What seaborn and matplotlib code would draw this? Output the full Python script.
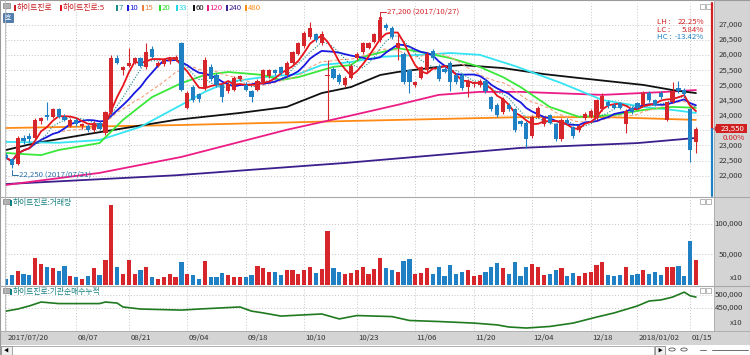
import numpy as np
import pandas as pd
import matplotlib
matplotlib.use("Agg")
import matplotlib.pyplot as plt
import matplotlib.transforms as mtrans
import seaborn as sns
from matplotlib.patches import Rectangle, Polygon
from matplotlib.lines import Line2D

## ---------------- datos ----------------

opens = [22700, 22550, 22400, 23250, 23300, 23250, 23800, 24000, 23950, 24200,
         23950, 23650, 23850, 23650, 23650, 23500, 23750, 23400, 24100, 25900,
         25500, 25650, 25750, 25900, 25600, 26200, 25650, 25700, 25800, 25850,
         26400, 24250, 24950, 24700, 24900, 25600, 25350, 25000, 24800, 24850,
         25200, 25000, 24800, 24850, 25100, 25300, 25500, 25600, 25350, 25750,
         26050, 26300, 26600, 26700, 26400, 25300, 25550, 25350, 25000, 25250,
         25900, 26100, 26250, 26450, 26500, 27000, 26900, 26250, 26050, 25500,
         25000, 25250, 25500, 26150, 25650, 25550, 25750, 25350, 25350, 24950,
         25050, 25000, 25150, 24600, 24350, 24100, 24350, 24200, 23800, 23750,
         23300, 23950, 23700, 24000, 23700, 23200, 23850, 23600, 23500, 23900,
         23950, 23900, 24200, 24450, 24350, 24400, 23700, 24250, 24400, 24350,
         24750, 24500, 24750, 23850, 24450, 24900, 24850, 24200, 23100]
highs = [22750, 22600, 23300, 23350, 23400, 23900, 23950, 24450, 24250, 24250,
         24050, 23900, 23900, 23750, 23700, 23800, 23800, 24150, 26000, 26000,
         25650, 26250, 25950, 25950, 26400, 26300, 25800, 25900, 25950, 26000,
         26450, 24800, 25000, 24750, 25950, 25700, 25400, 25050, 25100, 25300,
         25350, 25100, 24850, 25200, 25550, 25550, 25550, 25650, 25800, 26150,
         26450, 26800, 27100, 26750, 26800, 25850, 25600, 25400, 25300, 25700,
         26100, 26450, 26450, 26750, 27200, 27050, 26950, 26700, 26100, 25550,
         25150, 25650, 26100, 26200, 25700, 25600, 25800, 25400, 25400, 25200,
         25150, 25200, 25200, 24650, 24400, 24600, 24400, 24250, 23850, 23800,
         24000, 24300, 23950, 24050, 23750, 23900, 23900, 23650, 23700, 24100,
         24200, 24550, 24750, 24500, 24400, 24450, 24200, 24300, 24450, 24800,
         24800, 24550, 24800, 24450, 25100, 25150, 24900, 24250, 23600]
lows = [22550, 22250, 22350, 23050, 23100, 23200, 23700, 23850, 23900, 23900,
        23800, 23600, 23650, 23550, 23450, 23450, 23500, 23350, 24050, 25700,
        25350, 25600, 25700, 25600, 25550, 25900, 25600, 25650, 25700, 25800,
        24800, 24200, 24450, 24450, 24850, 25150, 24950, 24450, 24750, 24800,
        25150, 24800, 24450, 24800, 25050, 25250, 25350, 25350, 25300, 25700,
        26000, 26250, 26550, 26450, 26350, 23850, 25200, 25050, 24950, 25200,
        25850, 26050, 26200, 26400, 26450, 26850, 26550, 25850, 25050, 24750,
        24950, 25200, 25450, 25850, 25150, 25400, 24800, 25050, 24850, 24600,
        24950, 24950, 24750, 24150, 23950, 24050, 24150, 23450, 23650, 22900,
        23250, 23900, 23650, 23700, 23150, 23150, 23700, 23250, 23450, 23850,
        23900, 23850, 24150, 24250, 24200, 24200, 23400, 24050, 24200, 24300,
        24450, 24300, 24550, 23800, 24400, 24750, 24650, 22450, 22750]
closes = [22600, 22350, 23250, 23150, 23200, 23850, 23900, 23950, 24200, 23950,
          23850, 23850, 23700, 23700, 23500, 23750, 23550, 24100, 25900, 25750,
          25600, 25750, 25900, 25650, 26100, 25950, 25750, 25850, 25900, 25950,
          24850, 24750, 24500, 24550, 25850, 25200, 25000, 24600, 25050, 25250,
          25300, 24850, 24600, 25150, 25500, 25500, 25400, 25400, 25750, 26100,
          26400, 26750, 26900, 26500, 26700, 25350, 25250, 25100, 25250, 25650,
          26050, 26400, 26400, 26700, 27150, 26900, 26600, 26400, 25100, 25100,
          25100, 25600, 26050, 25900, 25200, 25450, 25100, 25100, 24900, 25150,
          25100, 25150, 24800, 24200, 24000, 24550, 24200, 23500, 23700, 23200,
          23950, 24250, 23900, 23750, 23200, 23850, 23750, 23300, 23650, 24050,
          24150, 24500, 24650, 24300, 24250, 24250, 24150, 24100, 24250, 24750,
          24500, 24350, 24600, 24450, 24800, 24800, 24700, 22850, 23550]
volumes = [9800, 16400, 23000, 18000, 16400, 44000, 34000, 29500, 28000, 23000,
           31000, 14800, 13000, 9800, 14800, 28000, 16400, 41000, 131000, 29500,
           18000, 41000, 18000, 24500, 29500, 13000, 9800, 13000, 18000, 13000,
           37700, 18000, 16400, 9800, 39000, 13000, 13000, 19700, 16400, 13000,
           13000, 13000, 16400, 31000, 28000, 21000, 21000, 16400, 24500, 24500,
           18000, 24000, 30000, 20000, 26000, 88000, 28000, 22000, 18000, 20000,
           25000, 30000, 18000, 26000, 45000, 28000, 24000, 22000, 40000, 42000,
           18000, 20000, 28000, 18000, 30000, 15000, 32000, 18000, 22000, 24000,
           14000, 16000, 22000, 30000, 36000, 28000, 18000, 38000, 14000, 30000,
           34000, 30000, 16000, 18000, 24000, 28000, 14000, 20000, 14000, 20000,
           22000, 32000, 38000, 16000, 14000, 16000, 30000, 16000, 18000, 24500,
           18000, 21000, 16400, 29500, 29500, 31000, 14800, 72000, 41000]

tick_idx = [0, 12, 21, 31, 41, 51, 60, 70, 80, 90, 100, 108, 117]
tick_labels = ["2017/07/20", "08/07", "08/21", "09/04", "09/18", "10/10", "10/23",
               "11/06", "11/20", "12/04", "12/18", "2018/01/02", "01/15"]

ma20_idx = [0, 6, 9, 16, 20, 25, 30, 34, 38, 44, 47, 50, 56, 59, 61, 67, 71, 76, 81, 85, 88, 93, 98, 104, 109, 114, 118]
ma20_val = [22750, 22680, 22850, 23080, 23850, 24610, 25070, 25340, 25440, 25340, 25170, 25270, 25610, 25670,
            25940, 26230, 26100, 25900, 25610, 25270, 24940, 24280, 23950, 24010, 24180, 24280, 24250]
ma33_idx = [0, 9, 16, 23, 30, 34, 38, 44, 50, 54, 59, 64, 71, 76, 81, 87, 95, 102, 109, 114, 118]
ma33_val = [23120, 23090, 23180, 23620, 24350, 24780, 25110, 25270, 25370, 25670, 25770, 25940, 26010,
            26070, 26010, 25640, 25070, 24510, 24280, 24180, 24080]
ma60_idx = [0, 5, 15, 29, 40, 48, 54, 59, 64, 67, 74, 78, 85, 92, 98, 109, 114, 118]
ma60_val = [22850, 23080, 23410, 23850, 24080, 24280, 24740, 24940, 25340, 25440, 25610, 25670, 25570,
            25370, 25240, 25010, 24840, 24740]
ma120_idx = [0, 16, 30, 40, 48, 58, 67, 74, 81, 88, 102, 112, 118]
ma120_val = [21690, 22090, 22620, 23120, 23520, 23950, 24350, 24680, 24780, 24780, 24680, 24770, 24840]
ma240_idx = [0, 29, 58, 88, 108, 118]
ma240_val = [21720, 22010, 22420, 22920, 23080, 23250]
ma480_idx = [0, 30, 58, 88, 103, 118]
ma480_val = [23580, 23680, 23810, 23940, 23940, 23850]

inst_idx = [0, 2, 4, 6, 9, 16, 17, 19, 20, 23, 30, 33, 40, 42, 44, 47, 54, 57, 60, 66, 69, 74, 80, 84,
            86, 89, 93, 97, 101, 104, 108, 110, 112, 114, 116, 117, 118]
inst_val = [438000, 446000, 458000, 473000, 467000, 467000, 473000, 469000, 454000, 446000, 442000, 446000,
            454000, 438000, 431000, 419000, 427000, 408000, 421000, 417000, 402000, 398000, 392000, 385000,
            377000, 373000, 379000, 392000, 415000, 431000, 458000, 477000, 481000, 492000, 511000, 497000, 492000]

## ---------------- estilo ----------------

sns.set_theme(style="white")
plt.rcParams['font.family'] = ['Noto Sans CJK KR', 'DejaVu Sans']

RED = '#d7262b'
BLUE = '#1f80c4'
GRID = '#c4c4c4'
PANEL_BG = '#d4d4d4'
TXT = '#333333'
FS = 5.6

W, H = 750, 355

fig = plt.figure(figsize=(7.5, 3.55), dpi=100)
fig.patch.set_facecolor('white')


def fx(x):
    return x / W


def fy(y):
    return 1 - y / H


def caja(l, t, w, h, **kw):
    fig.add_artist(Rectangle((fx(l), fy(t + h)), w / W, h / H, transform=fig.transFigure, **kw))


def linea(xs, ys, **kw):
    fig.add_artist(Line2D([fx(x) for x in xs], [fy(y) for y in ys], transform=fig.transFigure, **kw))


def texto(x, y, s, **kw):
    kw.setdefault('fontsize', FS)
    kw.setdefault('va', 'center')
    fig.text(fx(x), fy(y), s, **kw)


def ejes(l, t, w, h):
    return fig.add_axes([fx(l), fy(t + h), w / W, h / H])


# fondos grises
caja(714, 0, 36, 345, fc=PANEL_BG, ec='none', zorder=-5)
caja(0, 331, 750, 14, fc=PANEL_BG, ec='none', zorder=-5)

ax1 = ejes(5, 3, 708, 193)
ax2 = ejes(5, 197, 708, 88)
ax3 = ejes(5, 287, 708, 44)

x0 = -0.171
x1 = x0 + 708 / 5.847
for ax in (ax1, ax2, ax3):
    ax.set_xlim(x0, x1)
    ax.set_facecolor('white')
    for s in ax.spines.values():
        s.set_visible(False)
    ax.set_xticks(tick_idx)
    ax.tick_params(length=0, labelleft=False, labelbottom=False)
    ax.grid(True, linestyle=(0, (1, 2)), color=GRID, linewidth=0.7)
    ax.set_axisbelow(True)
    ax.set_xlabel("")
    ax.set_ylabel("")

ax1.set_ylim(21323, 27730)
ax1.set_yticks(range(22000, 27001, 500))
ax2.set_ylim(0, 144232)
ax2.set_yticks([50000, 100000])
ax3.set_ylim(361544, 530768)
ax3.set_yticks([450000, 500000])

## ---------------- velas ----------------

o = np.array(opens)
c = np.array(closes)
idx = np.arange(len(c))
colores = np.where(c >= o, RED, BLUE)

ax1.vlines(idx, lows, highs, colors=colores, linewidth=0.8, zorder=4)
ax1.bar(idx, np.maximum(np.abs(c - o), 25), bottom=np.minimum(o, c), width=0.72,
        color=colores, linewidth=0, zorder=5)

## ---------------- medias moviles ----------------

cierre = pd.Series(closes, dtype=float)
ma5 = cierre.rolling(5, min_periods=1).mean()
ma7 = cierre.rolling(7, min_periods=1).mean()
ma10 = cierre.rolling(10, min_periods=1).mean()
ma15 = cierre.rolling(15, min_periods=1).mean()

sns.lineplot(x=ma480_idx, y=ma480_val, ax=ax1, color='#ff8a16', linewidth=1.3, zorder=2)
sns.lineplot(x=ma240_idx, y=ma240_val, ax=ax1, color='#3b1f8c', linewidth=1.3, zorder=2)
sns.lineplot(x=ma120_idx, y=ma120_val, ax=ax1, color='#ec1c86', linewidth=1.3, zorder=2)
sns.lineplot(x=ma60_idx, y=ma60_val, ax=ax1, color='#111111', linewidth=1.3, zorder=2)
sns.lineplot(x=ma33_idx, y=ma33_val, ax=ax1, color='#35e4f2', linewidth=1.3, zorder=2)
sns.lineplot(x=ma20_idx, y=ma20_val, ax=ax1, color='#3ae83a', linewidth=1.3, zorder=2)
sns.lineplot(x=idx, y=ma15, ax=ax1, color='#f5a27c', linewidth=0.8, linestyle=(0, (3, 2)), zorder=3)
sns.lineplot(x=idx, y=ma10, ax=ax1, color='#1818e0', linewidth=1.3, zorder=3)
sns.lineplot(x=idx, y=ma7, ax=ax1, color='#178a8a', linewidth=0.8, linestyle=(0, (1, 1.5)), zorder=3)
sns.lineplot(x=idx, y=ma5, ax=ax1, color='#e8141b', linewidth=1.3, zorder=3)
ax1.set_xlabel("")
ax1.set_ylabel("")

## ---------------- volumen e institucional ----------------

ax2.bar(idx, volumes, width=0.72, color=colores, linewidth=0, zorder=3)
sns.lineplot(x=inst_idx, y=inst_val, ax=ax3, color='#1f7a1f', linewidth=1.2)
for ax in (ax2, ax3):
    ax.set_xlabel("")
    ax.set_ylabel("")

## ---------------- textos ----------------

yt1 = ax1.get_yaxis_transform()
for v in range(22000, 27001, 500):
    if v == 23500:
        continue  # tapado por la etiqueta del precio actual
    ax1.text(1.0424, v, f"{v:,}", transform=yt1, ha='right', va='center', fontsize=FS, color=TXT)
yt2 = ax2.get_yaxis_transform()
for v in (50000, 100000):
    ax2.text(1.0424, v, f"{v:,}", transform=yt2, ha='right', va='center', fontsize=FS, color=TXT)
yt3 = ax3.get_yaxis_transform()
for v in (450000, 500000):
    ax3.text(1.0424, v, f"{v:,}", transform=yt3, ha='right', va='center', fontsize=FS, color=TXT)
texto(743, 278, "x10", ha='right', color=TXT)
texto(743, 323, "x10", ha='right', color=TXT)

tr_fecha = mtrans.blended_transform_factory(ax3.transData, fig.transFigure)
for i, lab in zip(tick_idx, tick_labels):
    ax3.text(i + 0.25, fy(338), lab, transform=tr_fecha, ha='left', va='center', fontsize=FS, color=TXT)

# leyenda superior
leyenda = [(14, "하이트진로", '#c81e1e', '#c81e1e'),
           (60, "하이트진로:5", '#c81e1e', '#e8141b'),
           (116, "7", '#178a8a', '#178a8a'),
           (127, "10", '#1818e0', '#1818e0'),
           (142, "15", '#f08040', '#f08040'),
           (159, "20", '#2ed82e', '#2ed82e'),
           (176, "33", '#20d8e8', '#20d8e8'),
           (193, "60", '#111111', '#111111'),
           (207, "120", '#ec1c86', '#ec1c86'),
           (226, "240", '#3b1f8c', '#3b1f8c'),
           (245, "480", '#ff8a16', '#ff8a16')]
for xpos, s, ctxt, cmark in leyenda:
    caja(xpos, 5, 1.6, 6, fc=cmark, ec='none')
    texto(xpos + 2.5, 8, s, color=ctxt, ha='left')

# iconos pequeños
caja(3, 3, 7, 5, fc='#b0b0b0', ec='#808080', lw=0.5)
caja(3, 13, 10, 9, fc='#4f7fb0', ec='#3a6090', lw=0.5)
texto(8, 17.5, "호", color='white', ha='center', fontsize=5)
for yy in (4, 199, 288):
    caja(700, yy, 5, 5, fc='white', ec='#9a9a9a', lw=0.5)
    caja(706, yy, 5, 5, fc='white', ec='#9a9a9a', lw=0.5)
caja(3, 199, 7, 5, fc='#b0b0b0', ec='#808080', lw=0.5)
caja(3, 288, 7, 5, fc='#b0b0b0', ec='#808080', lw=0.5)
caja(10, 200, 1.6, 6, fc='#15807f', ec='none')
texto(12.5, 203, "하이트진로:거래량", color='#15807f', ha='left')
caja(10, 289, 1.6, 6, fc='#15807f', ec='none')
texto(12.5, 292, "하이트진로:기관순매수누적", color='#15807f', ha='left')

# maximo y minimo
i_max = int(np.argmax(highs))
i_min = int(np.argmin(lows))
ax1.plot([i_max, i_max, i_max + 1.0], [highs[i_max] + 30, 27430, 27430], color=RED, lw=0.7, zorder=6)
ax1.plot([i_max], [highs[i_max] + 40], marker='o', ms=1.5, color=RED, zorder=6)
ax1.text(i_max + 1.1, 27430, f"{highs[i_max]:,} (2017/10/27)", color=RED, fontsize=FS, va='center', ha='left')
ax1.plot([i_min, i_min, i_min + 1.0], [lows[i_min] - 80, 22020, 22020], color='#2a6fa8', lw=0.7, zorder=6)
ax1.text(i_min + 1.3, 22020, f"{lows[i_min]:,} (2017/07/21)", color='#2a6fa8', fontsize=FS, va='center', ha='left')

# LH / LC / HC
texto(657, 22, "LH :", color='#d02020', ha='left')
texto(704, 22, "22.25%", color='#d02020', ha='right')
texto(657, 29.5, "LC :", color='#d02020', ha='left')
texto(704, 29.5, "5.84%", color='#d02020', ha='right')
texto(657, 37, "HC :", color='#2080c0', ha='left')
texto(704, 37, "-13.42%", color='#2080c0', ha='right')

# precio actual
linea([712, 712], [3, 129], color='#d02020', lw=1.6)
linea([712, 712], [129, 196], color='#1f80c4', lw=1.6)
caja(716, 124, 31, 9.5, fc='#d02020', ec='none')
fig.add_artist(Polygon([[fx(713), fy(128.8)], [fx(716.5), fy(125.5)], [fx(716.5), fy(132)]],
                       closed=True, transform=fig.transFigure, fc='#d02020', ec='none'))
texto(745, 128.8, f"{closes[-1]:,}", color='white', ha='right')
texto(745, 138, "0.00%", color='#d02020', ha='right')

# separadores y marco
linea([0, 750], [196.5, 196.5], color='#a8a8a8', lw=0.8)
linea([0, 750], [286, 286], color='#a8a8a8', lw=0.8)
linea([0, 750], [331, 331], color='#a8a8a8', lw=0.6)
linea([714, 714], [0, 331], color='#a8a8a8', lw=0.6)
linea([4.5, 4.5], [0, 331], color='#b8b8b8', lw=0.6)

# barra de desplazamiento
caja(0, 345, 750, 10, fc='white', ec='none', zorder=-4)
caja(0.5, 345.5, 11, 9, fc='#f0f0f0', ec='#8a8a8a', lw=0.6)
texto(6, 350, "◀", color='black', ha='center', fontsize=3.5)
caja(12, 345.5, 642, 9, fc='white', ec='#a0a0a0', lw=0.6)
caja(655, 345.5, 10, 9, fc='#f0f0f0', ec='#8a8a8a', lw=0.6)
texto(660, 350, "▶", color='black', ha='center', fontsize=3.5)
for xc in (672, 684):
    fig.add_artist(plt.Circle((fx(xc), fy(349.5)), 3.2 / W, transform=fig.transFigure,
                              fc='white', ec='#555555', lw=0.6))
linea([700, 706], [350, 350], color='#555555', lw=0.6)
linea([712, 748], [350, 350], color='#555555', lw=0.6)
caja(0, 0, 749.5, 354.5, fc='none', ec='#9a9a9a', lw=0.8)

fig.savefig("out.png", dpi=100)
